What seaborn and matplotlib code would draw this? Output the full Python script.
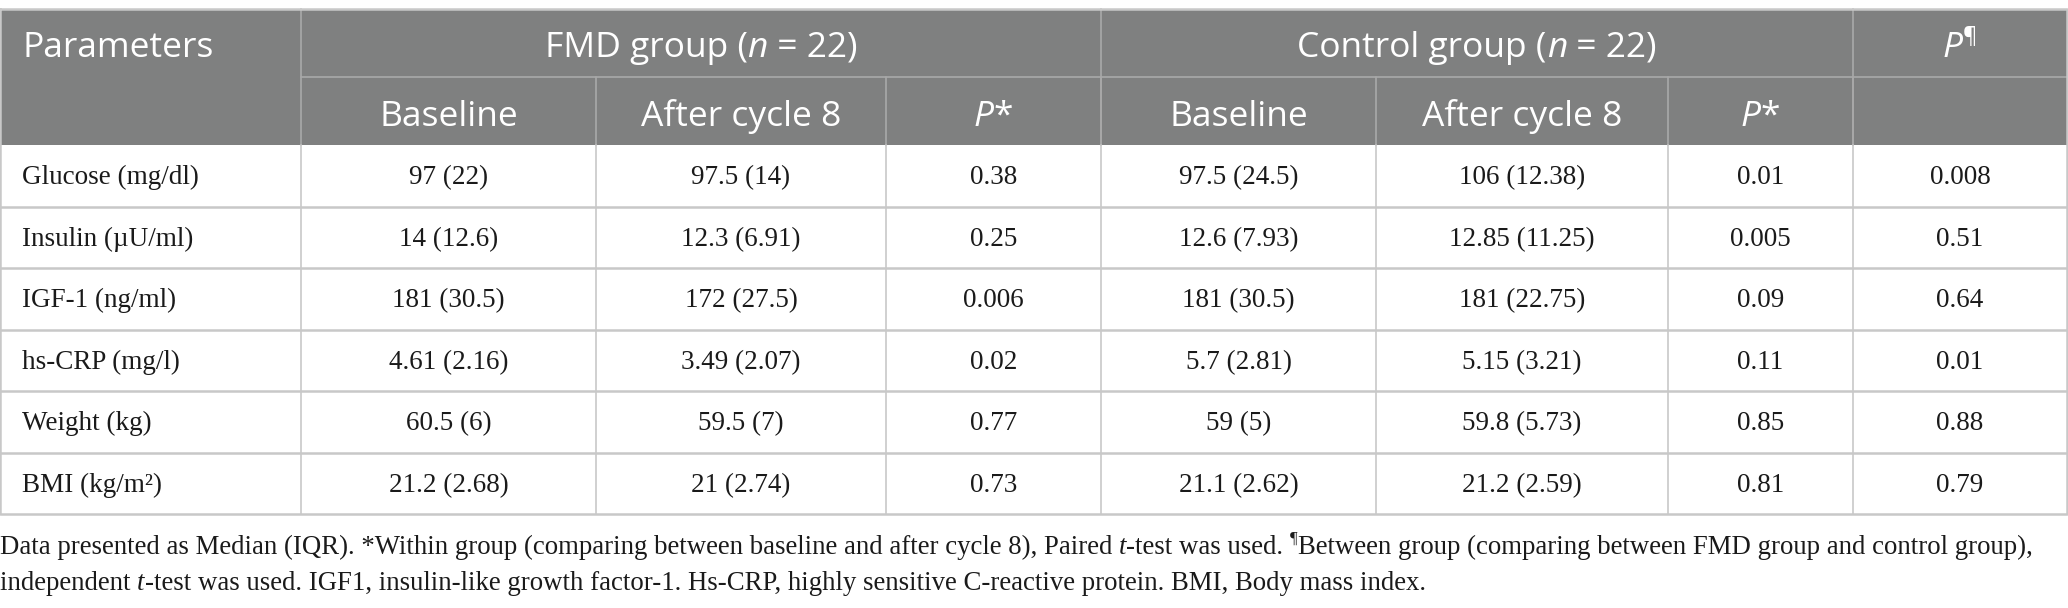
import numpy as np
import pandas as pd
import matplotlib
matplotlib.use("Agg")
import matplotlib.pyplot as plt
import seaborn as sns

# table data (median (IQR) and p values)
params = ["Glucose (mg/dl)", "Insulin (\u00b5U/ml)", "IGF-1 (ng/ml)",
          "hs-CRP (mg/l)", "Weight (kg)", "BMI (kg/m\u00b2)"]
fmd_base = [97, 14, 181, 4.61, 60.5, 21.2]
fmd_base_iqr = [22, 12.6, 30.5, 2.16, 6, 2.68]
fmd_after = [97.5, 12.3, 172, 3.49, 59.5, 21]
fmd_after_iqr = [14, 6.91, 27.5, 2.07, 7, 2.74]
fmd_p = [0.38, 0.25, 0.006, 0.02, 0.77, 0.73]
ctl_base = [97.5, 12.6, 181, 5.7, 59, 21.1]
ctl_base_iqr = [24.5, 7.93, 30.5, 2.81, 5, 2.62]
ctl_after = [106, 12.85, 181, 5.15, 59.8, 21.2]
ctl_after_iqr = [12.38, 11.25, 22.75, 3.21, 5.73, 2.59]
ctl_p = [0.01, 0.005, 0.09, 0.11, 0.85, 0.81]
p_between = [0.008, 0.51, 0.64, 0.01, 0.88, 0.79]

sub_headers = ["Baseline", "After cycle 8", "P*", "Baseline", "After cycle 8", "P*", ""]


def mi(m, q):
    return f"{m:g} ({q:g})"


df = pd.DataFrame({
    "param": params,
    "fb": [mi(a, b) for a, b in zip(fmd_base, fmd_base_iqr)],
    "fa": [mi(a, b) for a, b in zip(fmd_after, fmd_after_iqr)],
    "fp": [f"{v:g}" for v in fmd_p],
    "cb": [mi(a, b) for a, b in zip(ctl_base, ctl_base_iqr)],
    "ca": [mi(a, b) for a, b in zip(ctl_after, ctl_after_iqr)],
    "cp": [f"{v:g}" for v in ctl_p],
    "pb": [f"{v:g}" for v in p_between],
})

sns.set_style("white")
SANS = ["Open Sans", "DejaVu Sans"]
SERIF = ["Liberation Serif", "DejaVu Serif"]

W, H = 2068, 608
fig = plt.figure(figsize=(W / 100, H / 100), dpi=100)
ax = fig.add_axes([0, 0, 1, 1])
ax.set_xlim(0, W)
ax.set_ylim(H, 0)
ax.axis("off")
renderer = fig.canvas.get_renderer()

col_x = [0, 301, 596, 886, 1101, 1376, 1668, 1853, 2067]
top, hmid, hbot = 9, 77, 145
row_h = 61.5
row_y = [hbot + i * row_h for i in range(len(params) + 1)]

head_bg = "#7f8080"
head_line = "#a9a9a9"
grid = "#c8c8c8"
txt = "#1a1a1a"

# header background
ax.fill_between([0, W - 1], top, hbot, color=head_bg, lw=0)
# header lines
ax.plot([col_x[1], col_x[-1]], [hmid, hmid], color=head_line, lw=1.2)
for x in [col_x[1], col_x[4], col_x[7]]:
    ax.plot([x, x], [top, hbot], color=head_line, lw=1.2)
for x in col_x[2:-1]:
    ax.plot([x, x], [hmid, hbot], color=head_line, lw=1.2)

# body grid
for y in row_y[1:-1]:
    ax.plot([0, W - 1], [y, y], color=grid, lw=1.8)
for x in col_x[1:-1]:
    ax.plot([x, x], [hbot, row_y[-1]], color=grid, lw=1.2)
# outer border
ax.plot([0, W - 1, W - 1, 0, 0], [top, top, row_y[-1], row_y[-1], top],
        color=grid, lw=1.8)


def runs(x, y, parts, ha="center", family=SANS, size=18, color="white"):
    # parts: (text, italic, superscript)
    objs = []
    for s, it, sup in parts:
        fs = size * 0.62 if sup else size
        t = ax.text(0, y, s, fontsize=fs, family=family, color=color,
                    style="italic" if it else "normal", va="center", ha="left")
        objs.append((t, sup))
    widths = [t.get_window_extent(renderer).width for t, _ in objs]
    total = sum(widths)
    x0 = x - total / 2 if ha == "center" else x
    for (t, sup), w in zip(objs, widths):
        dy = -size * 100 / 72 * 0.32 if sup else 0
        t.set_position((x0, y + dy))
        x0 += w


HS = 25.5
h1 = (top + hmid) / 2 + 5
h2 = (hmid + hbot) / 2 + 6
# header row 1
runs(22, h1, [("Parameters", False, False)], ha="left", size=HS)
runs((col_x[1] + col_x[4]) / 2, h1,
     [("FMD group (", False, False), ("n", True, False), (" = 22)", False, False)], size=HS)
runs((col_x[4] + col_x[7]) / 2, h1,
     [("Control group (", False, False), ("n", True, False), (" = 22)", False, False)], size=HS)
runs((col_x[7] + col_x[8]) / 2, h1,
     [("P", True, False), ("\u00b6", False, True)], size=HS)
# header row 2
for i, lab in enumerate(sub_headers):
    cx = (col_x[i + 1] + col_x[i + 2]) / 2
    if lab == "P*":
        runs(cx, h2, [("P", True, False), ("*", False, False)], size=HS)
    elif lab:
        runs(cx, h2, [(lab, False, False)], size=HS)

# body
BS = 19.5
cols = ["fb", "fa", "fp", "cb", "ca", "cp", "pb"]
for r, row in df.iterrows():
    cy = (row_y[r] + row_y[r + 1]) / 2 + 2
    ax.text(22, cy, row["param"], fontsize=BS, family=SERIF, color=txt,
            va="center", ha="left")
    for j, c in enumerate(cols):
        ax.text((col_x[j + 1] + col_x[j + 2]) / 2, cy, row[c], fontsize=BS,
                family=SERIF, color=txt, va="center", ha="center")

# caption
CS = 19.3
runs(0, 547, [("Data presented as Median (IQR). *Within group (comparing between baseline and after cycle 8), Paired ", False, False),
              ("t", True, False),
              ("-test was used. ", False, False),
              ("\u00b6", False, True),
              ("Between group (comparing between FMD group and control group),", False, False)],
     ha="left", family=SERIF, size=CS, color=txt)
runs(0, 583, [("independent ", False, False), ("t", True, False),
              ("-test was used. IGF1, insulin-like growth factor-1. Hs-CRP, highly sensitive C-reactive protein. BMI, Body mass index.", False, False)],
     ha="left", family=SERIF, size=CS, color=txt)

fig.savefig("out.png", dpi=100)
